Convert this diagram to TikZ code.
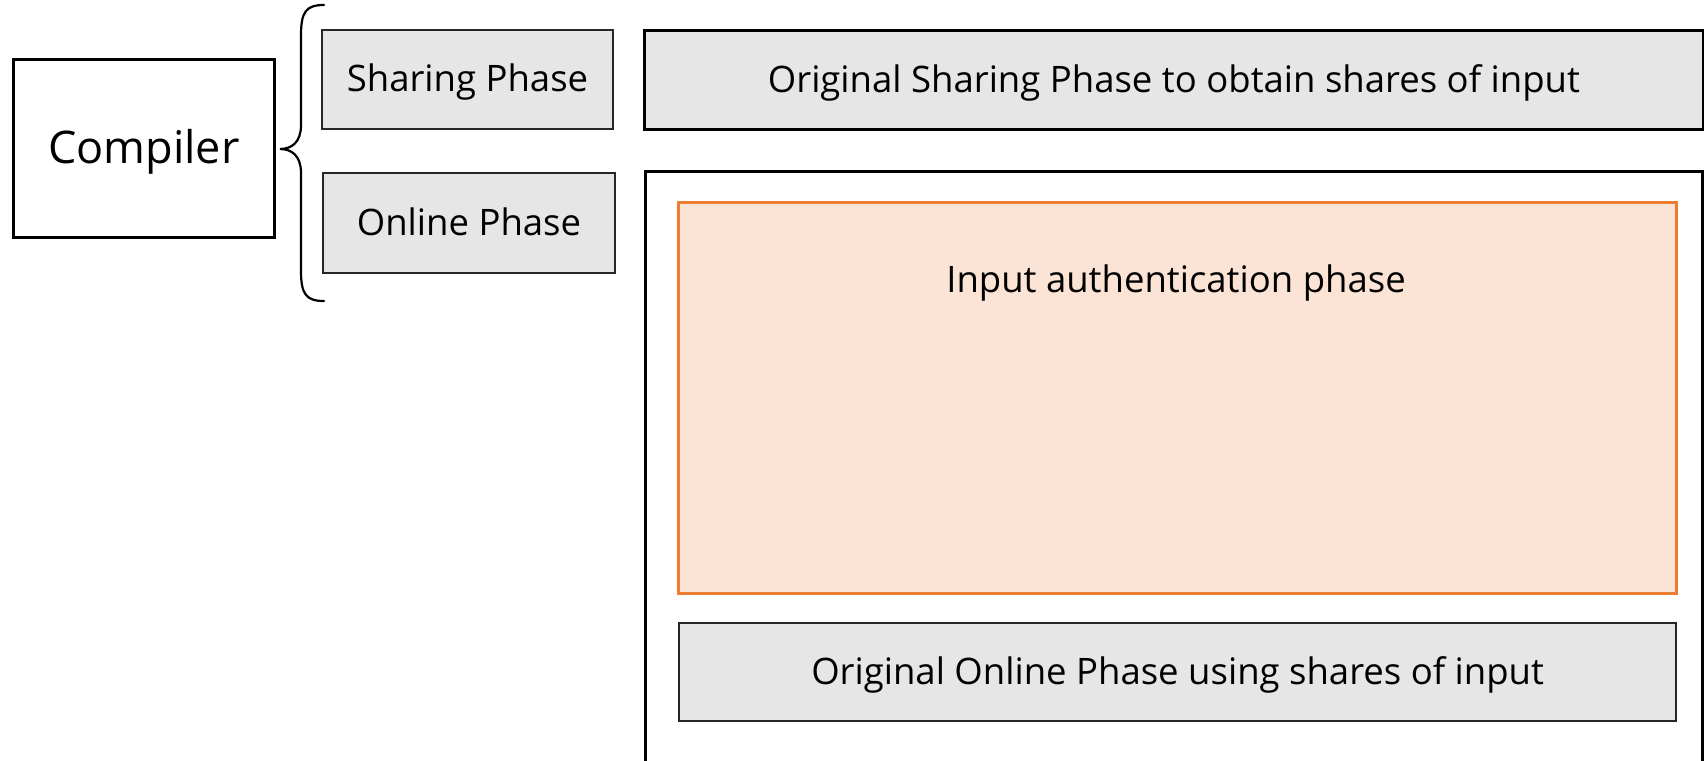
\documentclass[tikz,border=0pt]{standalone}
\usepackage{fontspec}
\setmainfont{Open Sans}
\definecolor{boxgray}{HTML}{E7E6E6}
\definecolor{authfill}{HTML}{FBE3D6}
\definecolor{authline}{HTML}{ED7D31}
\begin{document}
\begin{tikzpicture}[x=1pt,y=-1pt,
  phasebox/.style={draw=black!85, line width=2pt, fill=boxgray, inner sep=0pt, anchor=north west},
  lbl/.style={font=\fontsize{36.5}{42}\selectfont, text height=34pt, text depth=9pt},
]
\useasboundingbox (0,0) rectangle (1704,760);
\fill[white] (0,0) rectangle (1704,760);

% compiler block
\node[draw=black, line width=2.6pt, fill=white, minimum width=261pt, minimum height=178pt, anchor=north west,
  font=\fontsize{45}{52}\selectfont, text height=42pt, text depth=11pt] (compiler) at (12,58) {Compiler};

% curly brace joining the two phases
\draw[line width=2.2pt, line cap=round] (324,5) .. controls (306,5) and (301,12) .. (301,35)
  -- (301,125) .. controls (301,142) and (292,149) .. (280,149)
  .. controls (292,149) and (301,156) .. (301,173)
  -- (301,271) .. controls (301,294) and (306,301) .. (324,301);

% phase labels
\node[phasebox, minimum width=291pt, minimum height=99pt, lbl] (sharing) at (321,29) {Sharing Phase};
\node[phasebox, minimum width=292pt, minimum height=100pt, lbl] (online) at (322,172) {Online Phase};

% sharing phase detail
\node[draw=black, line width=2.8pt, fill=boxgray, inner sep=0pt, anchor=north west,
  minimum width=1059pt, minimum height=99pt, lbl] (origsharing) at (643,29)
  {Original Sharing Phase to obtain shares of input};

% online phase detail (runs past the lower edge)
\draw[line width=3pt] (645,790) -- (645,171) -- (1702,171) -- (1702,790);
\coordinate (onlinebox) at (1173,171);

\node[draw=authline, line width=2.8pt, fill=authfill, inner sep=0pt, anchor=north west,
  minimum width=998pt, minimum height=391pt] (auth) at (677,201) {};
\node[lbl, anchor=center] (authlabel) at (1176,280) {Input authentication phase};

\node[phasebox, line width=2.2pt, minimum width=997pt, minimum height=98pt, lbl] (origonline) at (678,622)
  {Original Online Phase using shares of input};
\end{tikzpicture}
\end{document}
